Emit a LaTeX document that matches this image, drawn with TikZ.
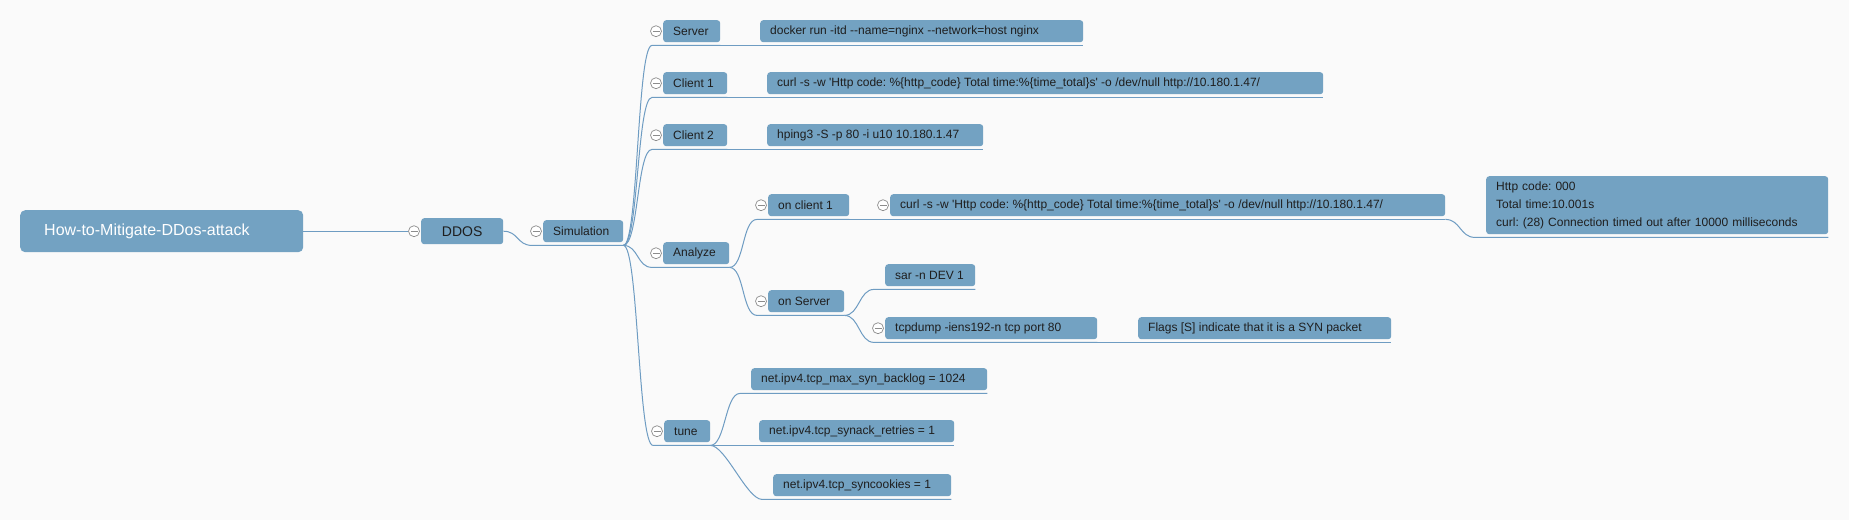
\documentclass[tikz,border=0pt]{standalone}
\usepackage{fontspec}
\newfontfamily\uif{Liberation Sans}
\usetikzlibrary{calc}
\definecolor{bgc}{HTML}{FAFAFA}
\definecolor{boxc}{HTML}{73A2C2}
\definecolor{linec}{HTML}{6E9CC2}
\definecolor{txtc}{HTML}{1E1E1E}
\definecolor{togc}{HTML}{8C8C8C}
\newcommand\lw[2]{\makebox[#1][l]{#2}}
\begin{document}
\frenchspacing
\begin{tikzpicture}[x=1pt,y=-1pt,
  box/.style={fill=boxc, rounded corners=3pt, anchor=north west, inner xsep=10pt, inner ysep=0pt,
    align=left, font=\uif\frenchspacing\fontsize{12}{14}\selectfont, text=txtc, minimum height=22pt},
  link/.style={draw=linec, line width=1pt},
  tog/.style={circle, draw=togc, fill=white, minimum size=11pt, inner sep=0pt, line width=0.7pt,
    path picture={\draw[togc, line width=0.7pt] ([xshift=-3.5pt]path picture bounding box.center) -- ([xshift=3.5pt]path picture bounding box.center);}}]
\useasboundingbox (0,0) rectangle (1849,520);
\fill[bgc] (0,0) rectangle (1849,520);

% nodes
\node[box, rounded corners=5pt, text=white, font=\uif\fontsize{16}{19}\selectfont, inner xsep=24pt, minimum height=42pt] (root) at (20,210) {\lw{235pt}{How-to-Mitigate-DDos-attack}};
\node[box, font=\uif\fontsize{14}{16}\selectfont, minimum height=26pt] (ddos) at (421,218) {\makebox[62pt][c]{DDOS}};
\node[box] (sim) at (543,220) {\lw{60pt}{Simulation}};
\node[box] (server) at (663,20) {\lw{37pt}{Server}};
\node[box] (srvcmd) at (760,20) {\lw{303pt}{docker run -itd --name=nginx --network=host nginx}};
\node[box] (client1) at (663,72) {\lw{44pt}{Client 1}};
\node[box] (c1cmd) at (767,72) {\lw{536pt}{curl -s -w 'Http code: \%\{http\_code\} Total time:\%\{time\_total\}s' -o /dev/null http://10.180.1.47/}};
\node[box] (client2) at (663,124) {\lw{44pt}{Client 2}};
\node[box] (c2cmd) at (767,124) {\lw{196pt}{hping3 -S -p 80 -i u10 10.180.1.47}};
\node[box] (analyze) at (663,242) {\lw{46pt}{Analyze}};
\node[box] (onc1) at (768,194) {\lw{61pt}{on client 1}};
\node[box] (curl2) at (890,194) {\lw{535pt}{curl -s -w 'Http code: \%\{http\_code\} Total time:\%\{time\_total\}s' -o /dev/null http://10.180.1.47/}};
\node[box, text width=322pt, minimum height=58pt, font=\uif\frenchspacing\fontsize{12}{18.3}\selectfont] (result) at (1486,176) {Http code: 000\\Total time:10.001s\\curl: (28) Connection timed out after 10000 milliseconds};
\node[box] (onsrv) at (768,290) {\lw{56pt}{on Server}};
\node[box] (sar) at (885,264) {\lw{70pt}{sar -n DEV 1}};
\node[box] (tcpdump) at (885,317) {\lw{192pt}{tcpdump -iens192-n tcp port 80}};
\node[box] (flags) at (1138,317) {\lw{233pt}{Flags [S] indicate that it is a SYN packet}};
\node[box] (tune) at (664,420) {\lw{26pt}{tune}};
\node[box] (backlog) at (751,368) {\lw{216pt}{net.ipv4.tcp\_max\_syn\_backlog = 1024}};
\node[box] (synack) at (759,420) {\lw{175pt}{net.ipv4.tcp\_synack\_retries = 1}};
\node[box] (syncook) at (773,474) {\lw{158pt}{net.ipv4.tcp\_syncookies = 1}};

% underline end points
\foreach \n in {sim,server,srvcmd,client1,c1cmd,client2,c2cmd,analyze,onc1,curl2,result,onsrv,sar,tcpdump,flags,tune,backlog,synack,syncook}{
  \coordinate (\n-in) at ($(\n.south west)+(-11,3)$);
  \coordinate (\n-out) at ($(\n.south east)+(0,3)$);
}
% toggles
\foreach \n in {ddos,sim,server,client1,client2,analyze,onc1,curl2,onsrv,tcpdump,tune}{
  \node[tog] (\n-t) at ($(\n.west)+(-7,0)$) {};
}

% connectors
\draw[link] (root.east) -- (ddos-t.west);
\draw[link] (ddos.east) .. controls +(15,0) and +(-15,0) .. (sim-in) -- (sim-out);
\foreach \c in {server,client1,client2,analyze,tune}{
  \draw[link] (sim-out) .. controls +(15,0) and +(-15,0) .. (\c-in) -- (\c-out);
}
\draw[link] (server-out) -- (srvcmd-out);
\draw[link] (client1-out) -- (c1cmd-out);
\draw[link] (client2-out) -- (c2cmd-out);
\foreach \c in {onc1,onsrv}{
  \draw[link] (analyze-out) .. controls +(15,0) and +(-15,0) .. (\c-in) -- (\c-out);
}
\draw[link] (onc1-out) -- (curl2-out);
\draw[link] (curl2-out) .. controls +(15,0) and +(-15,0) .. (result-in) -- (result-out);
\foreach \c in {sar,tcpdump}{
  \draw[link] (onsrv-out) .. controls +(15,0) and +(-15,0) .. (\c-in) -- (\c-out);
}
\draw[link] (tcpdump-out) -- (flags-out);
\foreach \c in {backlog,syncook}{
  \draw[link] (tune-out) .. controls +(15,0) and +(-15,0) .. (\c-in) -- (\c-out);
}
\draw[link] (tune-out) -- (synack-out);
\end{tikzpicture}
\end{document}
